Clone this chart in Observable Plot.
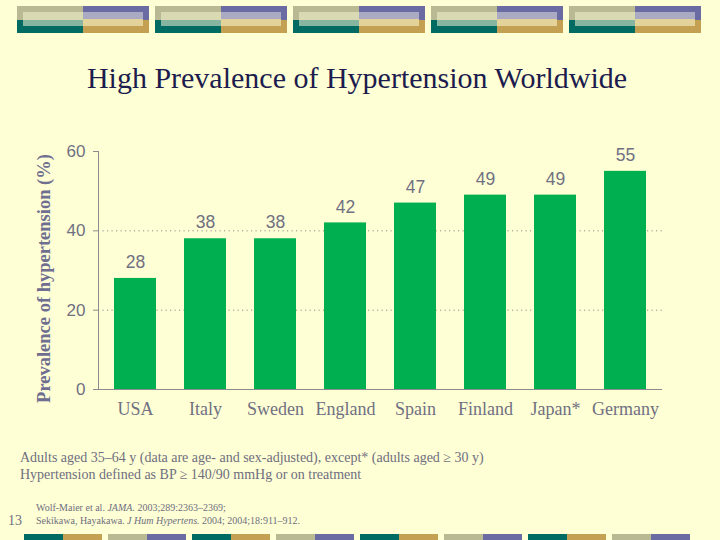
<!DOCTYPE html>
<html><head><meta charset="utf-8">
<script src="https://cdn.jsdelivr.net/npm/d3@7"></script>
<script src="https://cdn.jsdelivr.net/npm/@observablehq/plot@0.6"></script>
<style>
html,body{margin:0;padding:0;background:#FFFFD5;}
#page{position:relative;width:720px;height:540px;overflow:hidden;background:#FFFFD5;font-family:"Liberation Serif","Times New Roman",serif;}
#deco{position:absolute;left:0;top:0;}
#title{position:absolute;left:0;width:714px;top:61px;text-align:center;font-size:30px;line-height:34px;color:#1c1c4e;white-space:nowrap;}
#chart{position:absolute;left:0;top:100px;}
.note{position:absolute;left:20px;font-size:14px;line-height:17px;color:#6e6e80;white-space:nowrap;}
.ref{position:absolute;left:36px;font-size:10px;line-height:13px;color:#6e6e80;white-space:nowrap;}
#pagenum{position:absolute;left:8px;top:513px;font-size:14px;line-height:16px;color:#6e6e80;}
</style></head>
<body><div id="page">
<svg id="deco" width="720" height="540"></svg>
<div id="title"></div>
<div id="chart"></div>
<div class="note" id="note1" style="top:449px"></div>
<div class="note" id="note2" style="top:466px"></div>
<div class="ref" style="top:501px">Wolf-Maier et al. <i>JAMA.</i> 2003;289:2363–2369;</div>
<div class="ref" style="top:514px">Sekikawa, Hayakawa. <i>J Hum Hypertens.</i> 2004; 2004;18:911–912.</div>
<div id="pagenum">13</div>
</div>
<script>
// ---- data ----
const countries = ["USA", "Italy", "Sweden", "England", "Spain", "Finland", "Japan*", "Germany"];
const prevalence = [28, 38, 38, 42, 47, 49, 49, 55];
const yTicks = [0, 20, 40, 60];
const gridValues = [20, 40];
const titleText = "High Prevalence of Hypertension Worldwide";
const yLabel = "Prevalence of hypertension (%)";
const notes = [
  "Adults aged 35–64 y (data are age- and sex-adjusted), except* (adults aged ≥ 30 y)",
  "Hypertension defined as BP ≥ 140/90 mmHg or on treatment"
];

document.getElementById("title").textContent = titleText;
document.getElementById("note1").textContent = notes[0];
document.getElementById("note2").textContent = notes[1];

// ---- decorative bands ----
const deco = d3.select("#deco");
const C = {khaki:"#b9b993", lkhaki:"#d9d9b3", teal:"#006b63", mint:"#86b5a0",
           purple:"#6b6ba3", lav:"#abaac3", gold:"#c3a052", lgold:"#e3d39a"};
for (let i = 0; i < 5; i++) {
  const x0 = 17 + i * 138;
  const g = deco.append("g");
  const r = (x, y, w, h, f) => g.append("rect").attr("x", x).attr("y", y).attr("width", w).attr("height", h).attr("fill", f);
  r(x0, 6, 66, 14, C.khaki);
  r(x0, 20, 66, 13, C.teal);
  r(x0 + 66, 6, 66, 14, C.purple);
  r(x0 + 66, 20, 66, 13, C.gold);
  r(x0 + 6, 12, 60, 8, C.lkhaki);
  r(x0 + 6, 20, 60, 6, C.mint);
  r(x0 + 66, 12, 60, 7, C.lav);
  r(x0 + 66, 19, 60, 7, C.lgold);
}
for (let i = 0; i < 8; i++) {
  const x0 = 24 + i * 84;
  const pair = i % 2 === 0 ? [C.teal, C.gold] : [C.khaki, C.purple];
  deco.append("rect").attr("x", x0).attr("y", 534).attr("width", 39).attr("height", 6).attr("fill", pair[0]);
  deco.append("rect").attr("x", x0 + 39).attr("y", 534).attr("width", 39).attr("height", 6).attr("fill", pair[1]);
}

// ---- chart ----
const data = countries.map((c, i) => ({country: c, value: prevalence[i]}));
const gray = "#707082";
const axisGray = "#8c8c8c";
const chart = Plot.plot({
  width: 720,
  height: 330,
  marginTop: 51,
  marginBottom: 41,
  marginLeft: 98,
  marginRight: 58,
  style: {background: "transparent", overflow: "visible"},
  x: {domain: countries, paddingInner: 0.4, paddingOuter: 0.2, label: null},
  y: {domain: [0, 60], label: null},
  marks: [
    Plot.ruleY(gridValues, {stroke: axisGray, strokeDasharray: "1.2,3.3", strokeWidth: 1}),
    Plot.barY(data, {x: "country", y: "value", fill: "#00B050"}),
    Plot.text(data, {x: "country", y: "value", text: d => String(d.value), dy: -16,
      fontSize: 17.5, fill: gray, fontFamily: "'Liberation Sans', Arial, sans-serif"}),
    Plot.ruleY([0], {stroke: axisGray}),
    Plot.frame({anchor: "left", stroke: axisGray}),
    Plot.axisY({ticks: yTicks, tickSize: 5, tickPadding: 8, fontSize: 17, fill: gray, stroke: axisGray,
      fontFamily: "'Liberation Sans', Arial, sans-serif", label: null}),
    Plot.axisX({tickSize: 0, tickPadding: 13, fontSize: 18, fill: gray,
      fontFamily: "'Liberation Serif', 'Times New Roman', serif", label: null}),
    Plot.text([yLabel], {frameAnchor: "left", textAnchor: "middle", rotate: -90, dx: -54, dy: 8, text: d => d,
      fontSize: 18.5, fontWeight: "bold", fill: "#6e6e90",
      fontFamily: "'Liberation Serif', 'Times New Roman', serif"})
  ]
});
document.getElementById("chart").appendChild(chart);
</script>
</body></html>
